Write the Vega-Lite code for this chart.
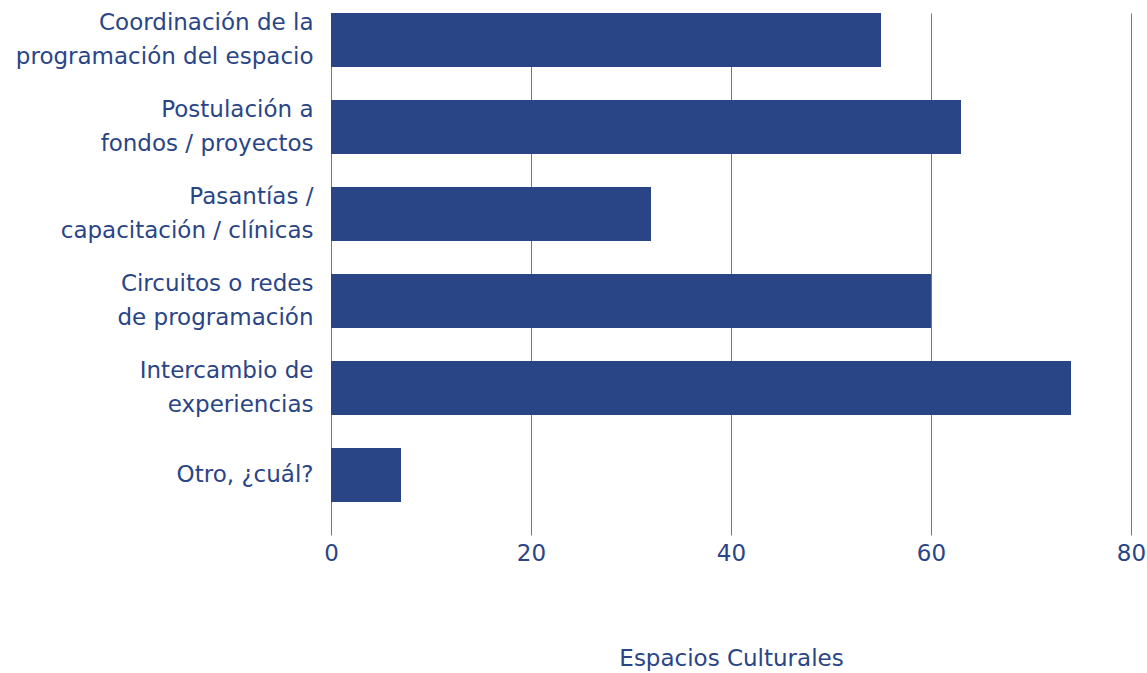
{
  "$schema": "https://vega.github.io/schema/vega-lite/v6.json",
  "width": 800,
  "height": 522,
  "padding": {"left": 15, "top": 11, "right": 16, "bottom": 5},
  "autosize": {"type": "pad"},
  "config": {
    "view": {"stroke": null},
    "font": "DejaVu Sans",
    "axis": {"labelFont": "DejaVu Sans", "titleFont": "DejaVu Sans"}
  },
  "data": {
    "values": [
      {"actividad": "Coordinación de la|programación del espacio", "espacios": 55},
      {"actividad": "Postulación a|fondos / proyectos", "espacios": 63},
      {"actividad": "Pasantías /|capacitación / clínicas", "espacios": 32},
      {"actividad": "Circuitos o redes|de programación", "espacios": 60},
      {"actividad": "Intercambio de|experiencias", "espacios": 74},
      {"actividad": "Otro, ¿cuál?", "espacios": 7}
    ]
  },
  "mark": {"type": "bar", "color": "#2a4586"},
  "encoding": {
    "y": {
      "field": "actividad",
      "type": "nominal",
      "sort": null,
      "scale": {"paddingInner": 0.379, "paddingOuter": 0.19, "align": 0},
      "axis": {
        "title": null,
        "domain": false,
        "ticks": false,
        "grid": false,
        "labelExpr": "split(datum.label, '|')",
        "labelFontSize": 23,
        "labelLineHeight": 34,
        "labelColor": "#2a4586",
        "labelPadding": 18,
        "labelLimit": 400,
        "labelBaseline": "middle",
        "labelOffset": {"condition": {"test": "indexof(datum.value, '|') >= 0", "value": -17}, "value": 0}
      }
    },
    "x": {
      "field": "espacios",
      "type": "quantitative",
      "scale": {"domain": [0, 80]},
      "axis": {
        "title": "Espacios Culturales",
        "titleFontSize": 23,
        "titleFontWeight": "normal",
        "titleColor": "#2a4586",
        "titlePadding": 82,
        "values": [0, 20, 40, 60, 80],
        "domain": false,
        "ticks": false,
        "grid": true,
        "gridColor": "#6b7894",
        "gridWidth": 1,
        "gridOpacity": 1,
        "labelFontSize": 23,
        "labelColor": "#2a4586",
        "labelPadding": 7,
        "labelFlush": false
      }
    }
  }
}
